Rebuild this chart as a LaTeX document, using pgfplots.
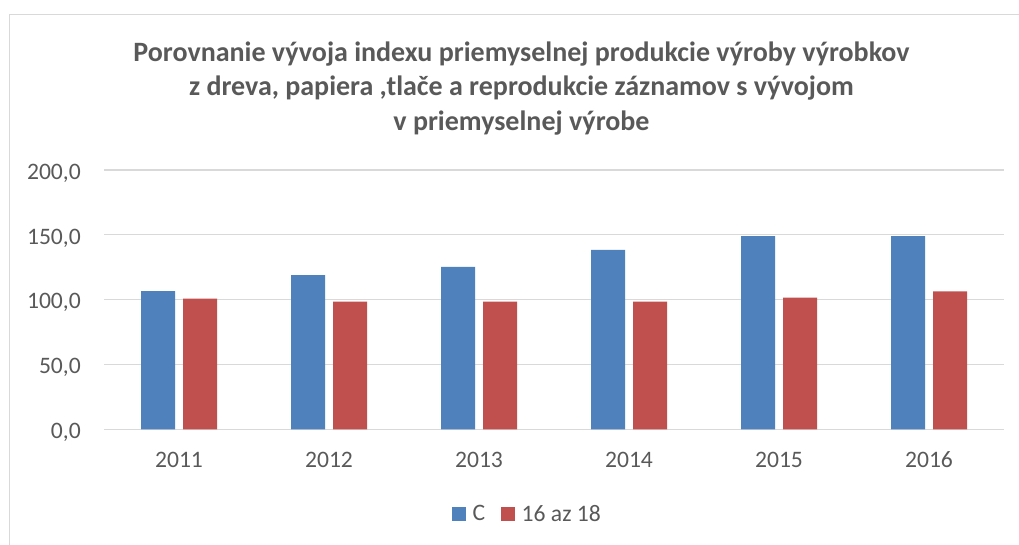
\documentclass[border=0pt]{standalone}
\usepackage{fontspec}
\setmainfont{Carlito}
\usepackage{pgfplots}
\pgfplotsset{compat=1.18}
\definecolor{cblue}{HTML}{4F81BD}
\definecolor{cred}{HTML}{C0504D}
\definecolor{tgray}{HTML}{595959}
\definecolor{ggray}{HTML}{D9D9D9}
\begin{document}
\begin{tikzpicture}[x=1pt,y=1pt]
\useasboundingbox (0,0) rectangle (1019,545);
\draw[ggray, line width=1.3pt] (9.5,0) -- (9.5,530.3) -- (1019,530.3);
\node[anchor=base, text=tgray, font=\bfseries\fontsize{28}{34}\selectfont, inner sep=0pt] at (521.5,483.3) {Porovnanie vývoja indexu priemyselnej produkcie výroby výrobkov};
\node[anchor=base, text=tgray, font=\bfseries\fontsize{28}{34}\selectfont, inner sep=0pt] at (521.5,449) {z dreva, papiera ,tlače a reprodukcie záznamov s vývojom};
\node[anchor=base, text=tgray, font=\bfseries\fontsize{28}{34}\selectfont, inner sep=0pt] at (521.5,414.5) {v priemyselnej výrobe};
\begin{axis}[
  at={(104pt,115.7pt)}, anchor=south west,
  width=900pt, height=259.3pt, scale only axis,
  xmin=-0.5, xmax=5.5, ymin=0, ymax=200,
  ybar=8pt, bar width=34pt,
  xtick={0,1,2,3,4,5}, xticklabels={2011,2012,2013,2014,2015,2016},
  ytick={0,50,100,150,200}, yticklabels={{0,0},{50,0},{100,0},{150,0},{200,0}},
  ymajorgrids, grid style={ggray, line width=1.3pt},
  axis line style={draw=none},
  major tick length=0pt,
  tick label style={font=\fontsize{23.6}{28}\selectfont, text=tgray},
  xticklabel style={anchor=base, yshift=-38.4pt, inner sep=0pt},
  yticklabel style={anchor=base east, xshift=-23pt, yshift=-9.3pt, inner sep=0pt},
  legend style={at={(0.387,-0.3267)}, anchor=west, draw=none, fill=none,
    inner sep=0pt, outer sep=0pt, font=\fontsize{23.6}{28}\selectfont, text=tgray,
    /tikz/every odd column/.style={column sep=7pt},
    /tikz/every even column/.style={column sep=16pt},
    nodes={inner sep=0pt}},
  legend columns=-1,
  legend image code/.code={\path[#1, draw=none] (0pt,-6.7pt) rectangle (13.4pt,6.7pt);},
]
\addplot[fill=cblue, draw=none] coordinates {(0,106.6) (1,119.0) (2,125.2) (3,138.3) (4,148.9) (5,148.9)};
\addplot[fill=cred, draw=none] coordinates {(0,100.7) (1,98.4) (2,98.4) (3,98.4) (4,101.5) (5,106.4)};
\legend{C,16 az 18}
\end{axis}
\end{tikzpicture}
\end{document}
